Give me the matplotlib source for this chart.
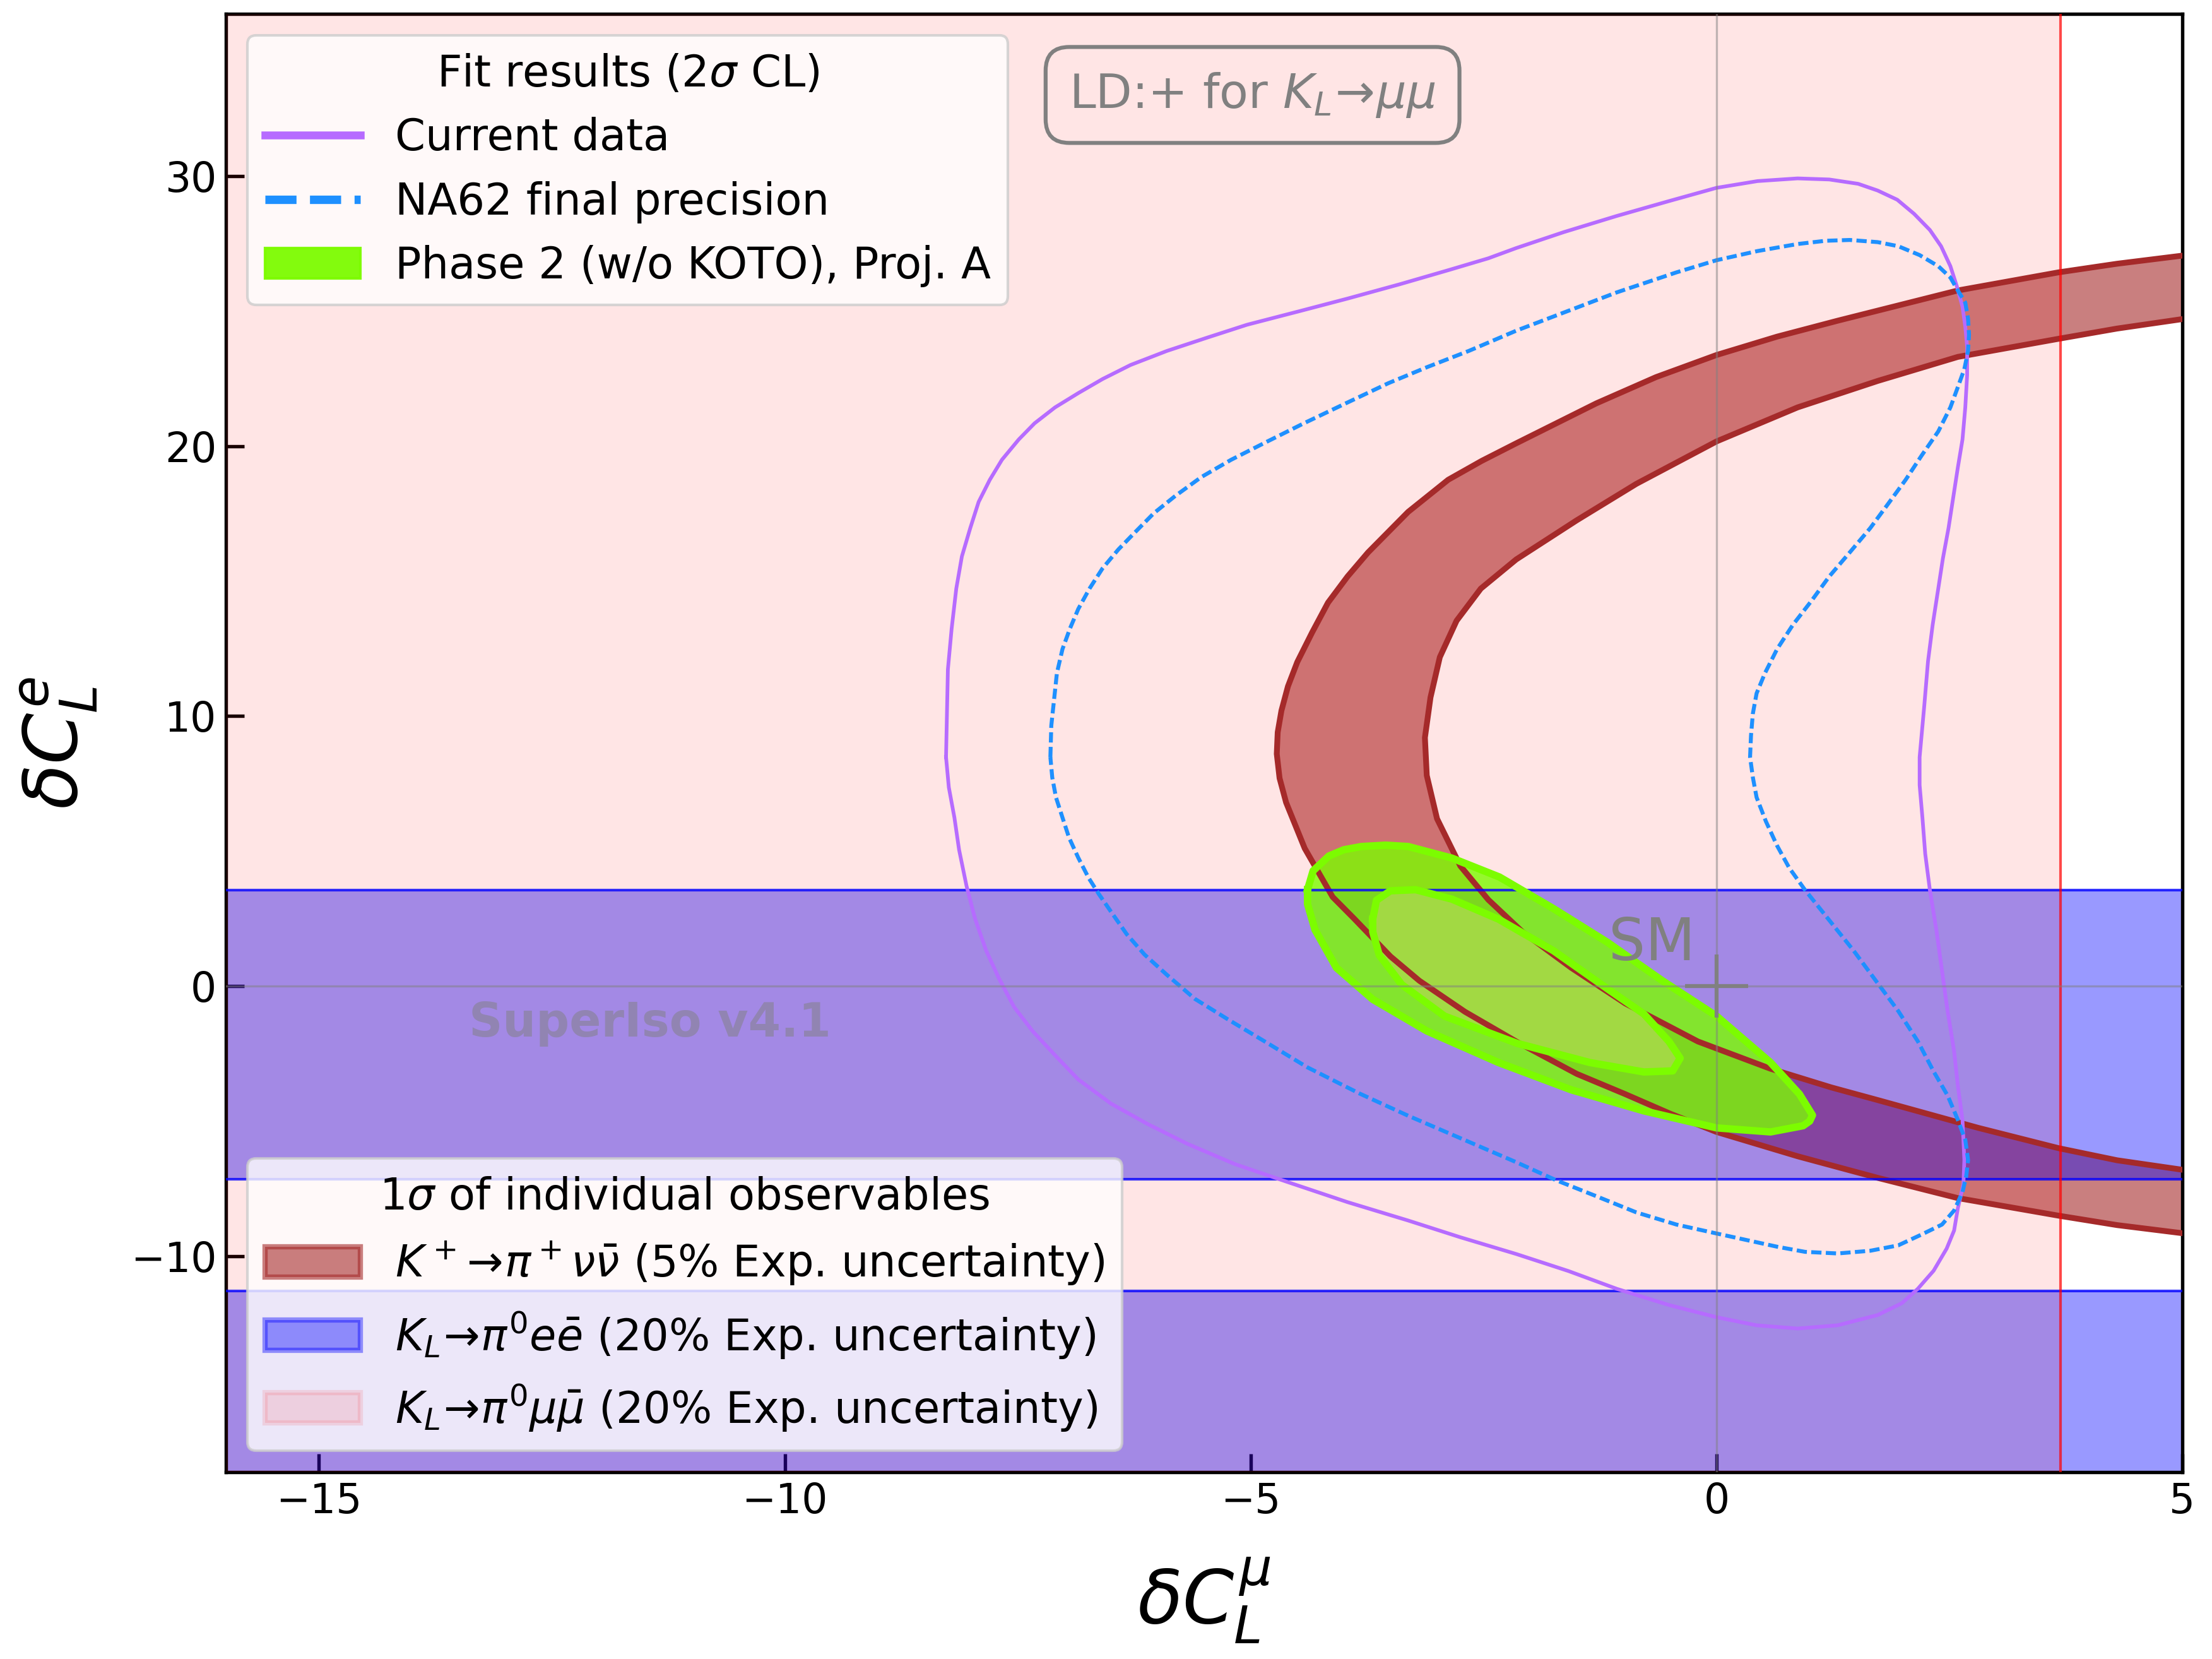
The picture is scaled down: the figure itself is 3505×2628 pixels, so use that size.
import matplotlib
matplotlib.use('Agg')
import matplotlib.pyplot as plt
from matplotlib.lines import Line2D
from matplotlib.patches import Patch

# K+ -> pi+ nu nubar (5% exp. unc.), 1 sigma band: outer and inner edges
kpnn_outer_x = [5.0, 4.3, 3.67, 2.59, 1.30, 0.65, 0.0, -0.65, -1.29, -2.15, -2.52, -2.88, -3.31, -3.74,
                -3.96, -4.17, -4.34, -4.50, -4.60, -4.67, -4.71, -4.72, -4.69, -4.62, -4.42, -4.12, -3.89,
                -3.50, -3.19, -2.70, -2.14, -1.50, -0.98, -0.5, 0.0, 0.87, 1.73, 2.59, 3.67, 4.3, 5.0]
kpnn_outer_y = [27.05, 26.75, 26.43, 25.76, 24.64, 24.05, 23.37, 22.55, 21.58, 20.1, 19.45, 18.75, 17.56, 16.06,
                15.17, 14.2, 13.1, 12.0, 11.1, 10.2, 9.4, 8.6, 7.7, 6.8, 5.1, 3.3, 2.5,
                1.1, 0.2, -0.95, -2.07, -3.25, -4.0, -4.72, -5.4, -6.3, -7.1, -7.85, -8.5, -8.85, -9.15]
kpnn_inner_x = [5.0, 4.3, 3.67, 2.59, 1.73, 0.87, 0.0, -0.86, -1.50, -2.15, -2.53, -2.79, -2.97,
                -3.07, -3.13, -3.11, -3.0, -2.75, -2.45, -2.08, -1.56, -0.98, -0.20, 0.58, 1.23,
                1.73, 2.81, 3.67, 4.3, 5.0]
kpnn_inner_y = [24.7, 24.35, 23.97, 23.30, 22.41, 21.43, 20.17, 18.60, 17.25, 15.8, 14.72, 13.53, 12.18,
                10.69, 9.2, 7.8, 6.2, 4.45, 3.2, 2.0, 0.68, -0.64, -2.05, -3.06, -3.75,
                -4.22, -5.25, -6.0, -6.45, -6.8]

# K_L -> pi0 e ebar (20% exp. unc.): allowed ranges of dC_L^e
klee_low = [-7.15, -18.5]
klee_high = [3.56, -11.3]
# K_L -> pi0 mu mubar (20% exp. unc.): allowed for dC_L^mu below this value
klmm_xmax = 3.69

# fit results (2 sigma CL)
current_x = [-8.27, -8.25, -8.21, -8.16, -8.10, -8.01, -7.92, -7.80, -7.67, -7.49, -7.32, -7.10, -6.85,
             -6.59, -6.29, -5.90, -5.47, -5.04, -4.48, -3.96, -3.40, -2.88, -2.45, -2.15, -1.64, -1.07,
             -0.51, 0.0, 0.44, 0.87, 1.21, 1.52, 1.73, 1.94, 2.12, 2.29, 2.41, 2.51, 2.58, 2.64, 2.67,
             2.69, 2.69, 2.67, 2.64, 2.59, 2.54, 2.49, 2.43, 2.38, 2.32, 2.27, 2.23, 2.18, 2.18, 2.21,
             2.24, 2.29, 2.36, 2.42, 2.48, 2.55, 2.59, 2.64, 2.66, 2.65, 2.59, 2.55, 2.47, 2.33, 2.16,
             1.99, 1.73, 1.30, 0.87, 0.43, 0.0, -0.51, -1.07, -1.59, -2.15, -2.75, -3.31, -3.96, -4.60,
             -5.17, -5.68, -6.11, -6.50, -6.85, -7.10, -7.34, -7.54, -7.70, -7.84, -7.96, -8.05, -8.13,
             -8.18, -8.24, -8.27]
current_y = [8.48, 11.73, 13.23, 14.72, 15.91, 16.96, 17.93, 18.75, 19.49, 20.24, 20.84, 21.43, 21.96,
             22.48, 23.0, 23.52, 24.01, 24.49, 24.99, 25.46, 25.99, 26.51, 26.95, 27.33, 27.92, 28.52,
             29.07, 29.56, 29.81, 29.91, 29.87, 29.71, 29.46, 29.12, 28.6, 28.0, 27.4, 26.66, 25.91, 25.16, 24.42,
             23.67, 22.63, 21.43, 20.24, 19.2, 18.08, 16.96, 15.84, 14.72, 13.38, 12.03, 10.39, 8.48, 7.44, 6.24,
             4.90, 3.56, 2.07, 0.57, -0.92, -2.41, -3.68, -4.95, -6.44, -7.33, -8.23, -9.05, -9.72, -10.54, -11.21,
             -11.74, -12.18, -12.56, -12.68, -12.56, -12.26, -11.81, -11.21, -10.55, -9.92, -9.3, -8.68, -8.0, -7.26,
             -6.59, -5.84, -5.10, -4.35, -3.46, -2.56, -1.67, -0.77, 0.27, 1.32, 2.51, 3.71, 5.05,
             6.24, 7.36, 8.48]

na62_x = [-7.15, -7.14, -7.08, -7.02, -6.94, -6.85, -6.73, -6.59, -6.42, -6.24, -6.04, -5.81, -5.53,
          -5.21, -4.82, -4.43, -3.98, -3.52, -3.10, -2.66, -2.15, -1.07, -0.43, 0.0, 0.44, 0.87, 1.17,
          1.43, 1.73, 1.95, 2.18, 2.38, 2.51, 2.59, 2.67, 2.70, 2.71, 2.70, 2.66, 2.59, 2.51, 2.38,
          2.20, 2.03, 1.84, 1.65, 1.43, 1.21, 1.02, 0.82, 0.65, 0.52, 0.43, 0.39, 0.37, 0.36, 0.39,
          0.43, 0.53, 0.65, 0.78, 0.95, 1.21, 1.47, 1.71, 1.95, 2.16, 2.33, 2.48, 2.59, 2.67, 2.70,
          2.68, 2.64, 2.55, 2.42, 2.20, 1.95, 1.65, 1.30, 0.95, 0.65, 0.0, -0.43, -0.86, -1.29, -1.72,
          -2.15, -2.73, -3.31, -3.83, -4.39, -4.82, -5.25, -5.60, -5.90, -6.14, -6.33, -6.48, -6.63,
          -6.74, -6.85, -6.95, -7.02, -7.09, -7.13, -7.15]
na62_y = [8.48, 9.65, 11.59, 12.48, 13.24, 13.97, 14.72, 15.47, 16.17, 16.81, 17.51, 18.15, 18.85,
          19.49, 20.17, 20.84, 21.58, 22.33, 22.93, 23.52, 24.27, 25.69, 26.43, 26.88, 27.22, 27.48, 27.6,
          27.63, 27.55, 27.40, 27.07, 26.66, 26.24, 25.76, 25.31, 24.72, 24.12, 23.52, 22.85, 22.18, 21.43, 20.54,
          19.64, 18.75, 17.85, 16.96, 16.06, 15.17, 14.27, 13.38, 12.48, 11.59, 10.84, 10.09, 9.27, 8.48, 7.73,
          6.99, 6.10, 5.20, 4.38, 3.56, 2.44, 1.32, 0.20, -0.92, -2.04, -3.16, -4.05, -4.95, -5.69, -6.44,
          -7.04, -7.63, -8.31, -8.83, -9.2, -9.6, -9.80, -9.90, -9.84, -9.65, -9.16, -8.83, -8.38, -7.78, -7.19,
          -6.52, -5.66, -4.80, -3.98, -3.01, -2.11, -1.22, -0.47, 0.42, 1.17, 1.92, 2.66, 3.41,
          4.01, 4.75, 5.50, 6.24, 6.99, 7.73, 8.48]

phase2_outer_x = [-4.39, -4.33, -4.16, -4.0, -3.81, -3.55, -3.31, -2.84, -2.33, -1.75, -1.17, -0.59, 0.0,
                  0.58, 0.89, 1.03, 1.0, 0.93, 0.58, 0.0, -0.78, -1.56, -2.34, -3.11, -3.69, -4.08,
                  -4.31, -4.39, -4.39]
phase2_outer_y = [3.57, 4.27, 4.82, 5.05, 5.17, 5.22, 5.17, 4.74, 4.04, 2.87, 1.62, 0.22, -1.11,
                  -2.83, -4.0, -4.78, -5.0, -5.17, -5.40, -5.25, -4.62, -3.84, -2.83, -1.66, -0.49, 0.68,
                  2.09, 3.04, 3.57]
phase2_inner_x = [-3.69, -3.65, -3.50, -3.23, -2.84, -2.34, -1.75, -1.17, -0.78, -0.51, -0.39, -0.47,
                  -0.78, -1.36, -2.14, -2.92, -3.38, -3.62, -3.69, -3.69]
phase2_inner_y = [2.48, 3.18, 3.53, 3.57, 3.22, 2.48, 1.31, -0.10, -1.03, -2.05, -2.67, -3.14,
                  -3.18, -2.83, -2.12, -1.11, 0.06, 1.15, 2.01, 2.48]

fit_labels = ['Current data', 'NA62 final precision', 'Phase 2 (w/o KOTO), Proj. A']
obs_labels = [r'$K^+\!\to\!\pi^+\nu\bar{\nu}$ (5% Exp. uncertainty)',
              r'$K_L\!\to\!\pi^0 e\bar{e}$ (20% Exp. uncertainty)',
              r'$K_L\!\to\!\pi^0\mu\bar{\mu}$ (20% Exp. uncertainty)']

purple = '#b66bff'

fig = plt.figure(figsize=(3505 / 300, 2628 / 300), dpi=300)
ax = fig.add_axes([0.1021, 0.1126, 0.8845, 0.879])

# filled regions
band_x = kpnn_outer_x + kpnn_inner_x[::-1]
band_y = kpnn_outer_y + kpnn_inner_y[::-1]
ax.fill(band_x, band_y, facecolor='brown', alpha=0.6, lw=0, zorder=1)
for lo, hi in zip(klee_low, klee_high):
    ax.axhspan(lo, hi, color='blue', alpha=0.4, lw=0, zorder=2)
ax.axvspan(-20, klmm_xmax, color='red', alpha=0.1, lw=0, zorder=3)
ax.fill(phase2_outer_x, phase2_outer_y, color='lawngreen', alpha=0.8, lw=0, zorder=4)
ax.fill(phase2_inner_x, phase2_inner_y, color='#a7da48', alpha=0.9, lw=0, zorder=5)

# edges
ax.plot(kpnn_outer_x, kpnn_outer_y, color='brown', lw=2.2, zorder=6, solid_joinstyle='round')
ax.plot(kpnn_inner_x, kpnn_inner_y, color='brown', lw=2.2, zorder=6, solid_joinstyle='round')
for y in klee_high + klee_low[:1]:
    ax.axhline(y, color='blue', alpha=0.8, lw=1.0, zorder=6)
ax.axvline(klmm_xmax, color='red', alpha=0.7, lw=1.0, zorder=6)
ax.plot(phase2_outer_x, phase2_outer_y, color='lawngreen', lw=2.8, zorder=7, solid_joinstyle='round')
ax.plot(phase2_inner_x, phase2_inner_y, color='lawngreen', lw=2.8, zorder=7, solid_joinstyle='round')

ax.plot(current_x, current_y, color=purple, lw=1.4, zorder=8, solid_joinstyle='round')
ax.plot(na62_x, na62_y, color='dodgerblue', lw=1.5, dashes=(2.6, 1.1), zorder=8)

# axes through zero and SM point
ax.axhline(0, color='gray', alpha=0.5, lw=0.8, zorder=9)
ax.axvline(0, color='gray', alpha=0.5, lw=0.8, zorder=9)
ax.plot(0, 0, marker='+', color='gray', ms=24, mew=1.5, zorder=10)
ax.text(-1.16, 0.95, 'SM', color='gray', fontsize=22, zorder=10)

ax.text(-11.45, -1.4, 'SuperIso v4.1', color='gray', alpha=0.5, fontsize=17.8,
        fontweight='bold', ha='center', va='center', zorder=10)
ax.text(-4.98, 33.0, r'LD:+ for $K_L\!\to\!\mu\mu$', color='gray', fontsize=18,
        ha='center', va='center', zorder=10,
        bbox=dict(boxstyle='round,pad=0.5', facecolor='none', edgecolor='gray', lw=1.5))

ax.set_xlim(-16, 5)
ax.set_ylim(-18, 36)
ax.set_xticks([-15, -10, -5, 0, 5])
ax.set_yticks([-10, 0, 10, 20, 30])
ax.tick_params(direction='in', length=7, width=1.3, labelsize=15.5, top=False, right=False)
for sp in ax.spines.values():
    sp.set_linewidth(1.3)
ax.set_xlabel(r'$\delta C_L^{\mu}$', fontsize=28, labelpad=13)
ax.set_ylabel(r'$\delta C_L^{e}$', fontsize=28, labelpad=12)

# legends
h1 = [Line2D([], [], color=purple, lw=3),
      Line2D([], [], color='dodgerblue', lw=3.2, ls='--'),
      Patch(facecolor='lawngreen', edgecolor='lawngreen', alpha=0.95)]
leg1 = ax.legend(h1, fit_labels, title=r'Fit results (2$\sigma$ CL)', loc='upper left',
                 fontsize=16.5, title_fontsize=16.5, handlelength=2.2)
leg1.set_zorder(20)
ax.add_artist(leg1)

h2 = [Patch(facecolor='brown', edgecolor='brown', alpha=0.6, lw=2),
      Patch(facecolor='blue', edgecolor='blue', alpha=0.4, lw=2),
      Patch(facecolor='red', edgecolor='red', alpha=0.1, lw=2)]
leg2 = ax.legend(h2, obs_labels, title=r'1$\sigma$ of individual observables', loc='lower left',
                 fontsize=16.5, title_fontsize=16.5, handlelength=2.2)
leg2.set_zorder(20)

fig.savefig('out.png', dpi=300)
